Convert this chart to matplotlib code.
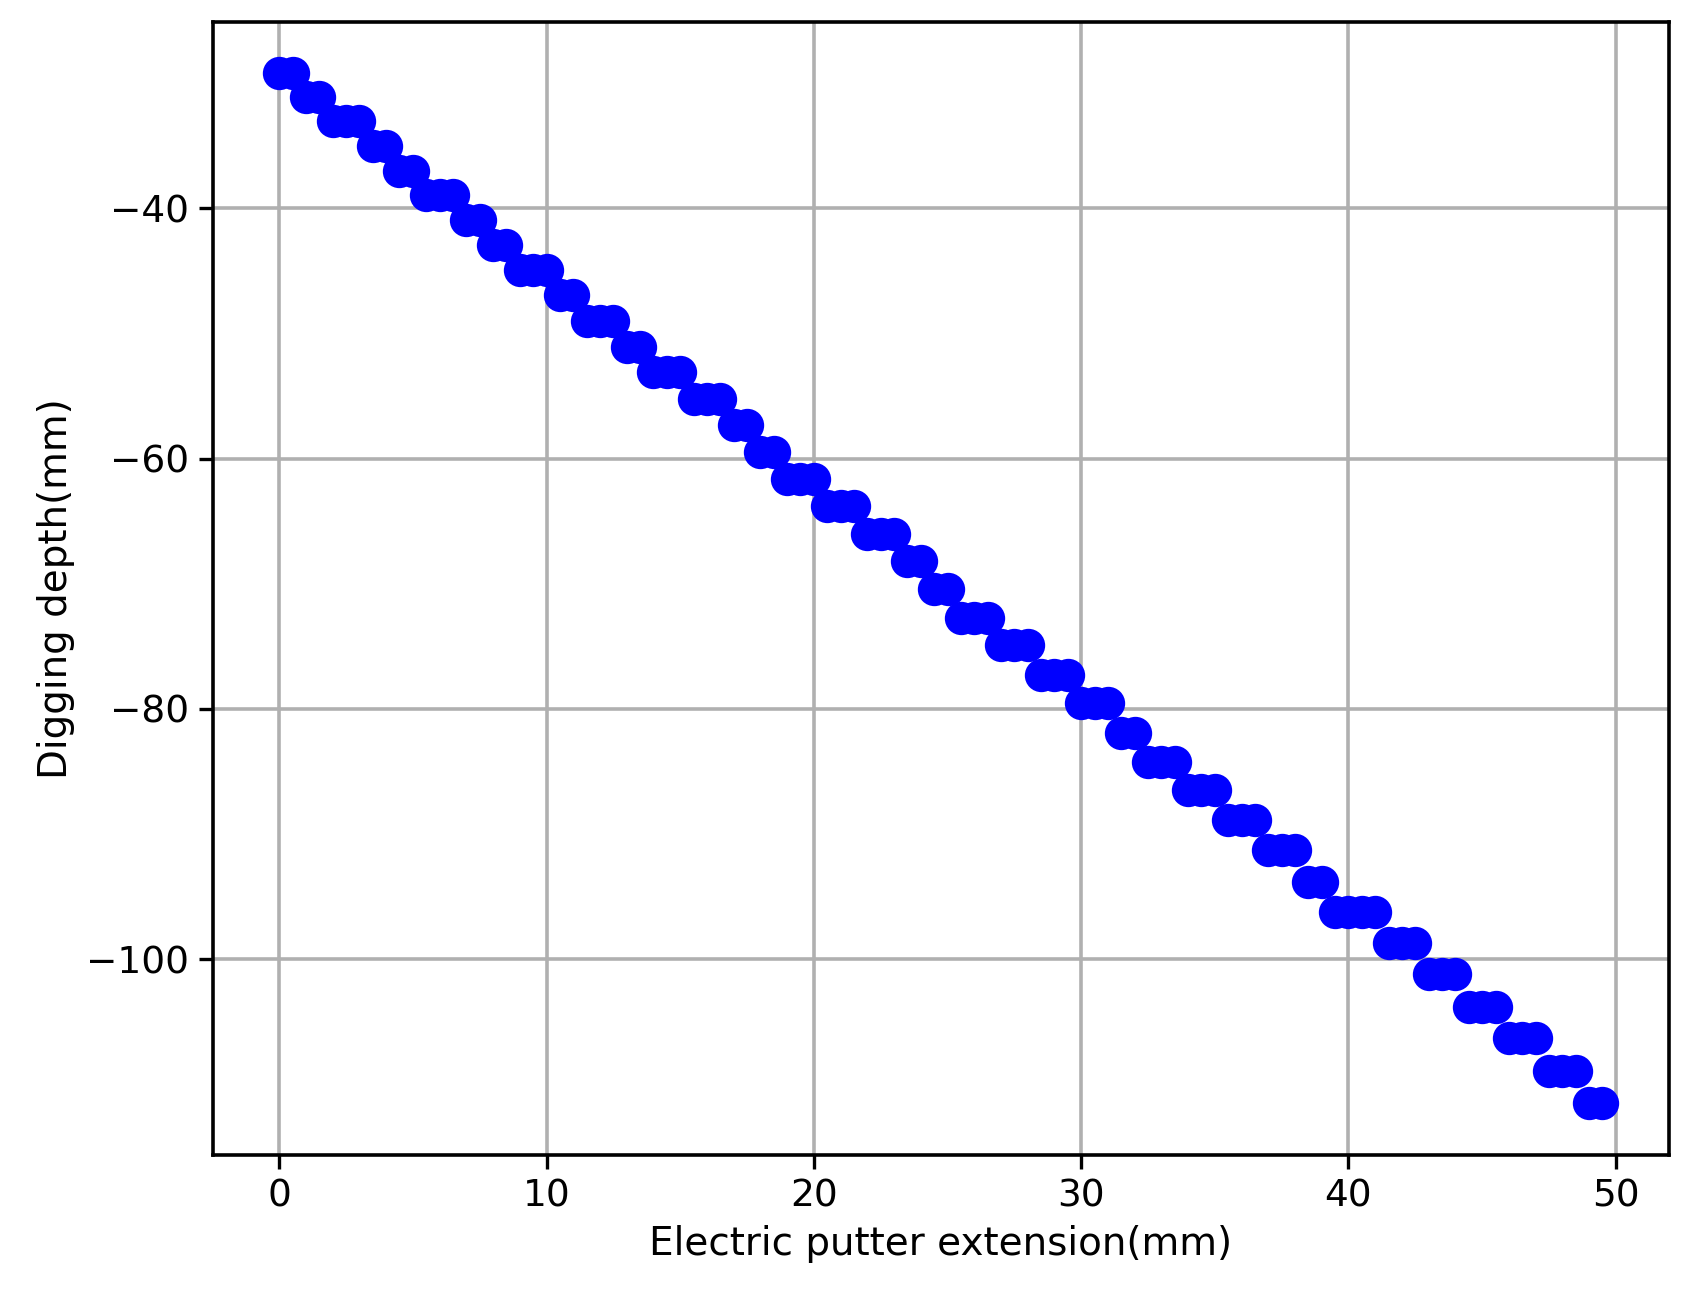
import matplotlib
matplotlib.use("Agg")
import matplotlib.pyplot as plt
import numpy as np

# depth levels (mm) and how many consecutive samples sit at each level
levels = [-29.2, -31.1, -33.0, -35.0, -37.0, -38.9, -40.9, -42.9, -44.9, -46.9,
          -49.0, -51.1, -53.1, -55.2, -57.3, -59.5, -61.6, -63.8, -66.0, -68.2,
          -70.4, -72.7, -74.9, -77.3, -79.5, -81.9, -84.2, -86.5, -88.9, -91.3,
          -93.8, -96.2, -98.7, -101.2, -103.8, -106.3, -108.9, -111.5]
counts = [2, 2, 3, 2, 2, 3, 2, 2, 3, 2,
          3, 2, 3, 3, 2, 2, 3, 3, 3, 2,
          2, 3, 3, 3, 3, 2, 3, 3, 3, 3,
          2, 4, 3, 3, 3, 3, 3, 2]

depth = np.repeat(levels, counts)
extension = np.arange(len(depth)) * 0.5

W, H = 1560, 1195
fig = plt.figure(figsize=(8.435, 6.46), dpi=200)
ax = fig.add_axes([197 / W, 1 - 1068 / H, (1543 - 197) / W, (1068 - 20) / H])
ax.plot(extension, depth, 'o', color='blue', markersize=11, linestyle='none')
ax.grid(True, color='#b0b0b0', linewidth=1.3)
ax.set_axisbelow(True)
ax.set_xlabel('Electric putter extension(mm)', fontsize=14)
ax.set_ylabel('Digging depth(mm)', fontsize=14)
ax.tick_params(labelsize=13.5, width=1.2, length=5)
for s in ax.spines.values():
    s.set_linewidth(1.3)
plt.savefig('out.png', dpi=200)
